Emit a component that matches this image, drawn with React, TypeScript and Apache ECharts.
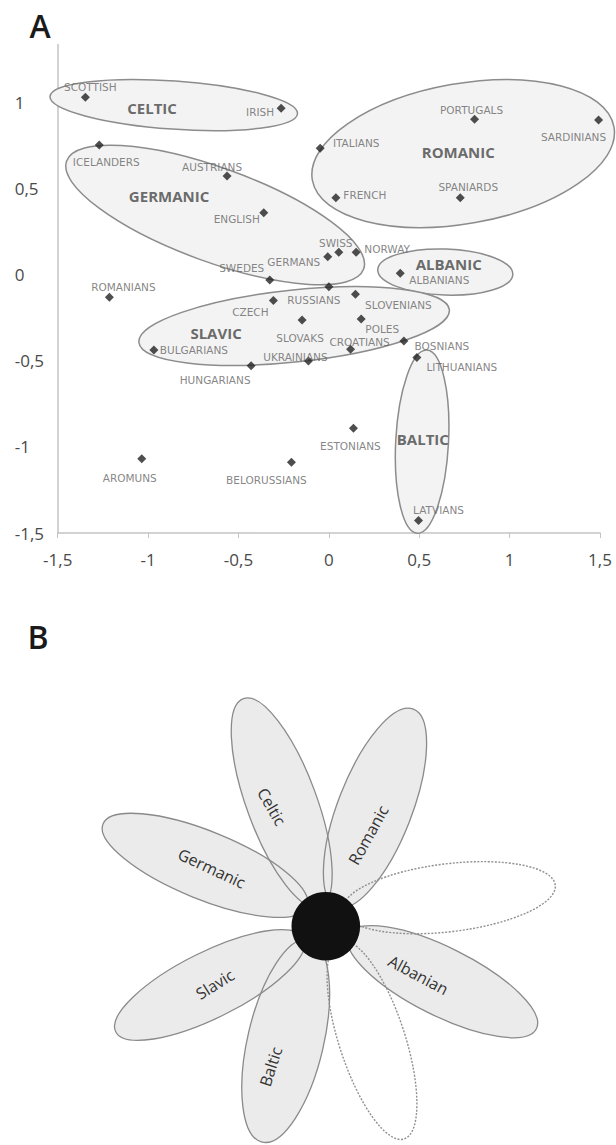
import React, { useEffect, useRef } from "react";
import * as echarts from "echarts";

// ---- Panel A data: MDS coordinates of populations ----
const nations = [
  "SCOTTISH", "IRISH", "ICELANDERS", "AUSTRIANS", "ENGLISH", "SWEDES", "GERMANS", "SWISS", "NORWAY",
  "ROMANIANS", "CZECH", "RUSSIANS", "SLOVENIANS", "SLOVAKS", "POLES", "CROATIANS", "BOSNIANS",
  "LITHUANIANS", "BULGARIANS", "HUNGARIANS", "UKRAINIANS", "AROMUNS", "BELORUSSIANS", "ESTONIANS",
  "LATVIANS", "PORTUGALS", "SARDINIANS", "ITALIANS", "FRENCH", "SPANIARDS", "ALBANIANS",
];
const dim1 = [
  -1.347, -0.264, -1.27, -0.563, -0.36, -0.327, -0.006, 0.055, 0.151,
  -1.214, -0.307, 0.0, 0.147, -0.148, 0.179, 0.12, 0.415,
  0.487, -0.968, -0.43, -0.113, -1.035, -0.207, 0.136,
  0.496, 0.806, 1.492, -0.048, 0.039, 0.727, 0.395,
];
const dim2 = [
  1.033, 0.969, 0.756, 0.576, 0.362, -0.029, 0.106, 0.132, 0.132,
  -0.13, -0.149, -0.068, -0.112, -0.262, -0.256, -0.432, -0.384,
  -0.479, -0.436, -0.527, -0.5, -1.068, -1.089, -0.891,
  -1.428, 0.905, 0.901, 0.737, 0.449, 0.449, 0.01,
];

// group ellipses (data units)
const groups = ["CELTIC", "GERMANIC", "ROMANIC", "ALBANIC", "SLAVIC", "BALTIC"];
const groupCx = [-0.858, -0.629, 0.743, 0.644, -0.192, 0.516];
const groupCy = [0.988, 0.349, 0.706, 0.017, -0.297, -0.969];
const groupRx = [0.686, 0.874, 0.847, 0.374, 0.863, 0.146];
const groupRy = [0.14, 0.273, 0.407, 0.134, 0.209, 0.533];
const groupRotDeg = [-4, -20, 10, -2, 6, -3];
const groupLabelX = [-0.978, -0.884, 0.716, 0.663, -0.624, 0.52];
const groupLabelY = [0.969, 0.459, 0.715, 0.064, -0.337, -0.953];

const axisTicks = [-1.5, -1, -0.5, 0, 0.5, 1, 1.5];

// ---- Panel B: flower petals ----
const petals = ["Celtic", "Romanic", "Germanic", "Slavic", "Baltic", "Albanian"];

// label placement (pixels, relative to the marker)
const labelOffsets: Record<string, [number, number]> = {
  SCOTTISH: [5, -10], IRISH: [-21, 4], ICELANDERS: [7, 17], AUSTRIANS: [-15, -9], ENGLISH: [-27, 6],
  SWEDES: [-28, -12], GERMANS: [-34, 5], SWISS: [-3, -9], NORWAY: [31, -3], ROMANIANS: [14, -10],
  CZECH: [-23, 11], RUSSIANS: [-15, 13], SLOVENIANS: [43, 11], SLOVAKS: [-2, 18], POLES: [21, 10],
  CROATIANS: [9, -7], BOSNIANS: [38, 5], LITHUANIANS: [45, 10], BULGARIANS: [40, 0], HUNGARIANS: [-36, 14],
  UKRAINIANS: [-13, -4], AROMUNS: [-12, 19], BELORUSSIANS: [-25, 18], ESTONIANS: [-3, 18], LATVIANS: [20, -11],
  PORTUGALS: [-3, -9], SARDINIANS: [-25, 17], ITALIANS: [36, -5], FRENCH: [29, -3], SPANIARDS: [8, -11],
  ALBANIANS: [39, 7],
};

// petal geometry in pixels: [cx, cy, a, b, rotationDeg]
const petalGeom: Record<string, number[]> = {
  Celtic: [281.7, 802.7, 111, 35, -69.8],
  Romanic: [375, 808, 106, 37, 68.8],
  Germanic: [205, 865.3, 110, 34, -22.1],
  Slavic: [209.7, 985, 105, 33, 26.5],
  Baltic: [285.7, 1040.8, 104, 38, 76.9],
  Albanian: [442.5, 981.7, 105, 34, -26.6],
};
const petalLabelGeom: Record<string, number[]> = {
  Celtic: [271.7, 806.7, -60],
  Romanic: [368.3, 835, 61],
  Germanic: [211.7, 868.3, -25],
  Slavic: [215, 984.3, 32],
  Baltic: [270.7, 1066.7, 72],
  Albanian: [418.3, 975, -28],
};
const dashedGeom = [
  [449, 897.7, 107, 34, 6.8],
  [372, 1040, 104, 33, -72],
];

const fmt = (v: number) => {
  if (Math.abs(v * 2 - Math.round(v * 2)) > 1e-6) return "";
  return String(Math.round(v * 10) / 10).replace(".", ",");
};

export default function App() {
  const ref = useRef<HTMLDivElement>(null);
  useEffect(() => {
    if (!ref.current) return;
    const chart = echarts.init(ref.current, null, { renderer: "svg" });
    const rad = (d: number) => (d * Math.PI) / 180;

    const graphic: any[] = [];
    graphic.push({ type: "text", x: 40, y: 25, style: { text: "A", font: "600 32px 'Open Sans'", fill: "#1a1a1a", textAlign: "center", textVerticalAlign: "middle", align: "center", verticalAlign: "middle" } });
    graphic.push({ type: "text", x: 38, y: 636, style: { text: "B", font: "600 32px 'Open Sans'", fill: "#1a1a1a", textAlign: "center", textVerticalAlign: "middle", align: "center", verticalAlign: "middle" } });
    petals.forEach((p) => {
      const g = petalGeom[p];
      graphic.push({ type: "ellipse", x: g[0], y: g[1], rotation: rad(g[4]), shape: { cx: 0, cy: 0, rx: g[2], ry: g[3] }, style: { fill: "#ebebeb", stroke: null }, silent: true });
    });
    petals.forEach((p) => {
      const g = petalGeom[p];
      graphic.push({ type: "ellipse", x: g[0], y: g[1], rotation: rad(g[4]), shape: { cx: 0, cy: 0, rx: g[2], ry: g[3] }, style: { fill: "none", stroke: "#8a8a8a", lineWidth: 1.3 }, silent: true });
    });
    dashedGeom.forEach((g) => {
      graphic.push({ type: "ellipse", x: g[0], y: g[1], rotation: rad(g[4]), shape: { cx: 0, cy: 0, rx: g[2], ry: g[3] }, style: { fill: "none", stroke: "#909090", lineWidth: 1.4, lineDash: [2, 1.5] }, silent: true });
    });
    graphic.push({ type: "circle", shape: { cx: 325.8, cy: 926.2, r: 34.3 }, style: { fill: "#111" } });
    petals.forEach((p) => {
      const l = petalLabelGeom[p];
      graphic.push({ type: "text", x: l[0], y: l[1], rotation: rad(l[2]), style: { text: p, font: "16px 'Open Sans'", fill: "#333", textAlign: "center", textVerticalAlign: "middle", align: "center", verticalAlign: "middle" } });
    });

    const axisLineStyle = { color: "#c4c4c4", width: 1.5 };
    const option: any = {
      animation: false,
      backgroundColor: "#ffffff",
      grid: { left: 57.7, right: 16, top: 44.5, bottom: 612, containLabel: false },
      xAxis: {
        type: "value", min: axisTicks[0], max: axisTicks[axisTicks.length - 1], interval: 0.5,
        axisLine: { show: true, onZero: false, lineStyle: axisLineStyle },
        axisTick: { show: true, length: 5, lineStyle: { color: "#c4c4c4" } },
        splitLine: { show: false },
        axisLabel: { formatter: fmt, color: "#4a4a4a", fontSize: 17, fontFamily: "Open Sans", margin: 18 },
      },
      yAxis: {
        type: "value", min: -1.5, max: 1.34, interval: 0.5,
        axisLine: { show: true, onZero: false, lineStyle: axisLineStyle },
        axisTick: { show: false },
        splitLine: { show: false },
        axisLabel: { formatter: fmt, color: "#4a4a4a", fontSize: 17, fontFamily: "Open Sans", margin: 43, align: "left", showMaxLabel: false },
      },
      series: [
        {
          type: "custom",
          silent: true,
          data: groups.map((g, i) => [groupCx[i], groupCy[i], groupRx[i], groupRy[i], groupRotDeg[i]]),
          renderItem: (params: any, api: any) => {
            const c = api.coord([api.value(0), api.value(1)]);
            const s = api.size([api.value(2), api.value(3)]);
            return {
              type: "ellipse",
              x: c[0], y: c[1], rotation: rad(api.value(4)),
              shape: { cx: 0, cy: 0, rx: s[0], ry: s[1] },
              style: { fill: "#f3f3f3", stroke: "#8c8c8c", lineWidth: 1.5 },
            };
          },
          z: 1,
        },
        {
          type: "scatter",
          symbol: "diamond",
          symbolSize: 9,
          itemStyle: { color: "#222" },
          z: 3,
          label: {
            show: true, position: "inside", formatter: "{b}", color: "#666",
            fontFamily: "DejaVu Sans", fontSize: 10.5, textBorderWidth: 0,
          },
          data: nations.map((n, i) => ({
            name: n,
            value: [dim1[i], dim2[i]],
            label: { offset: labelOffsets[n] },
          })),
        },
        {
          type: "scatter",
          symbolSize: 1,
          itemStyle: { color: "rgba(0,0,0,0)" },
          z: 4,
          label: {
            show: true, position: "inside", formatter: "{b}", color: "#454545",
            fontFamily: "Open Sans", fontWeight: "bold", fontSize: 15, textBorderWidth: 0,
          },
          data: groups.map((g, i) => ({ name: g, value: [groupLabelX[i], groupLabelY[i]] })),
        },
      ],
      graphic,
    };
    chart.setOption(option);
    return () => chart.dispose();
  }, []);
  return <div ref={ref} style={{ position: "absolute", left: 0, top: 0, width: 616, height: 1145, background: "#fff" }} />;
}
